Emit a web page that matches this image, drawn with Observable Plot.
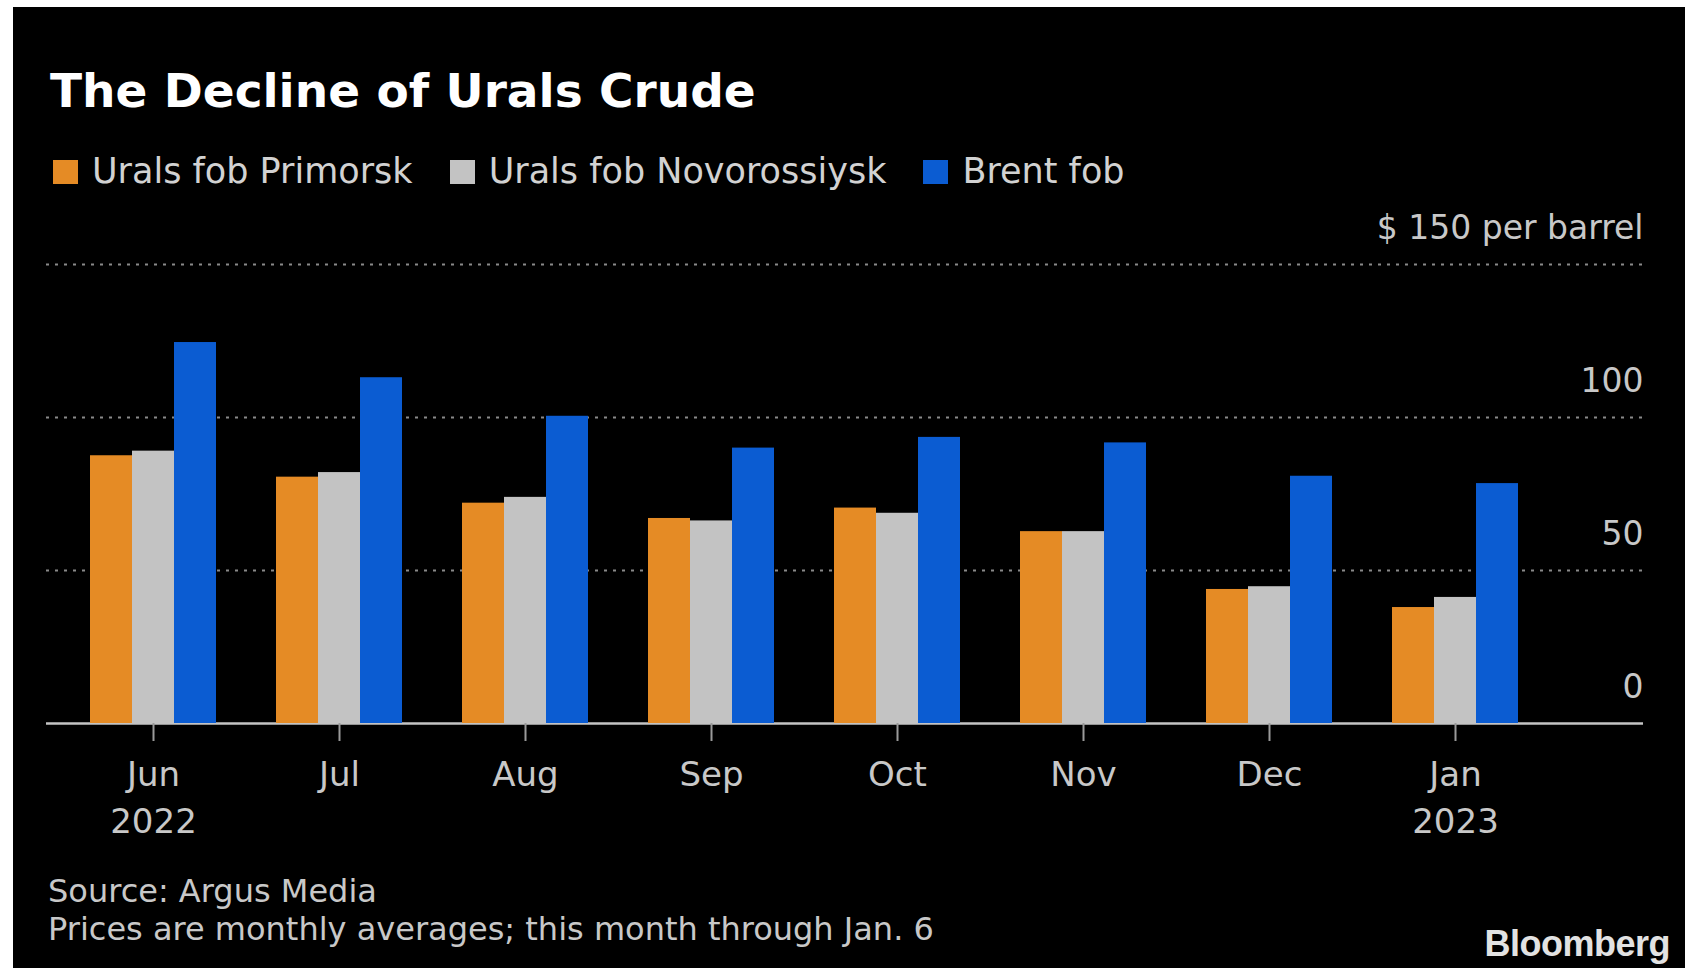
<!DOCTYPE html>
<html>
<head>
<meta charset="utf-8">
<script src="https://cdn.jsdelivr.net/npm/d3@7"></script>
<script src="https://cdn.jsdelivr.net/npm/@observablehq/plot@0.6"></script>
<style>
  html, body { margin: 0; padding: 0; background: #fff; width: 1685px; height: 971px; overflow: hidden; font-family: "DejaVu Sans", sans-serif; }
  #panel { position: absolute; left: 13px; top: 7px; width: 1672px; height: 961px; background: #000; }
  #title { position: absolute; left: 50px; top: 67px; font-size: 47px; line-height: 47px; font-weight: bold; color: #fff; white-space: nowrap; }
  #legend { position: absolute; left: 53px; top: 154px; height: 35px; display: flex; align-items: center; font-size: 35px; line-height: 35px; color: #d2d2d2; white-space: nowrap; }
  #legend .item { display: flex; align-items: center; margin-right: 37px; }
  #legend .sw { width: 25px; height: 24px; margin-right: 14px; }
  #chart { position: absolute; left: 0; top: 180px; width: 1685px; height: 680px; }
  #chart svg { position: absolute; left: 0; top: 0; }
  #footer { position: absolute; left: 48px; top: 872px; font-size: 32px; line-height: 38px; color: #c8c8c8; white-space: nowrap; }
  #logo { position: absolute; right: 15px; top: 926px; font-family: "Liberation Sans", Arial, sans-serif; font-weight: bold; font-size: 36px; line-height: 36px; color: #e2e2e2; letter-spacing: -0.5px; }
</style>
</head>
<body>
<div id="panel"></div>
<div id="title">The Decline of Urals Crude</div>
<div id="legend"></div>
<div id="chart"></div>
<div id="footer">Source: Argus Media<br>Prices are monthly averages; this month through Jan. 6</div>
<div id="logo">Bloomberg</div>
<script>
// ---- data ----
const months = ["Jun", "Jul", "Aug", "Sep", "Oct", "Nov", "Dec", "Jan"];
const years = ["2022", "", "", "", "", "", "", "2023"];
const series = ["Urals fob Primorsk", "Urals fob Novorossiysk", "Brent fob"];
const colors = ["#e58b25", "#c3c3c3", "#0b5cd2"];
const primorsk = [87.5, 80.5, 72.0, 67.0, 70.4, 62.7, 43.8, 37.9];
const novorossiysk = [89.0, 82.0, 73.9, 66.2, 68.7, 62.7, 44.7, 41.2];
const brent = [124.5, 113.0, 100.4, 90.0, 93.5, 91.7, 80.8, 78.4];
const yTicks = [0, 50, 100, 150];
const yLabels = ["0", "50", "100", "$ 150 per barrel"];

const seriesValues = [primorsk, novorossiysk, brent];
const data = months.flatMap((m, i) => series.map((s, j) => ({ month: m, series: s, value: seriesValues[j][i] })));

// legend
const legend = document.getElementById("legend");
series.forEach((s, j) => {
  const item = document.createElement("div");
  item.className = "item";
  const sw = document.createElement("div");
  sw.className = "sw";
  sw.style.background = colors[j];
  const label = document.createElement("span");
  label.textContent = s;
  item.appendChild(sw);
  item.appendChild(label);
  legend.appendChild(item);
});

const common = {
  width: 1685,
  height: 680,
  marginLeft: 46,
  marginRight: 42,
  marginTop: 84,
  marginBottom: 137,
  style: { background: "transparent", fontFamily: "DejaVu Sans, sans-serif", overflow: "visible" },
  y: { domain: [0, 150], axis: null }
};

// back layer: grid, baseline, y labels
const back = Plot.plot({
  ...common,
  x: { domain: months, axis: null },
  marks: [
    Plot.ruleY(yTicks.filter(d => d > 0), { stroke: "#8a8a8a", strokeWidth: 2, strokeDasharray: "3,6" }),
    Plot.ruleY([0], { stroke: "#c4c4c4", strokeWidth: 2.5 }),
    Plot.text(yTicks, {
      y: d => d, text: (d, i) => yLabels[i],
      frameAnchor: "right", textAnchor: "end", dy: -36,
      fill: "#c8c8c8", fontSize: 33
    })
  ]
});

// front layer: grouped bars + month axis
const front = Plot.plot({
  ...common,
  fx: { domain: months, paddingInner: 0.324, paddingOuter: 0.4435, align: 0.257, label: null },
  x: { domain: series, padding: 0, axis: null },
  color: { domain: series, range: colors },
  facet: { marginTop: 0, marginBottom: 0, marginLeft: 0, marginRight: 0 },
  marks: [
    Plot.barY(data, { fx: "month", x: "series", y: "value", fill: "series" }),
    Plot.axisFx({
      anchor: "bottom", label: null, tickSize: 18, tickPadding: 11,
      tickFormat: d => { const y = years[months.indexOf(d)]; return y ? d + "\n" + y : d; },
      fontSize: 34, lineHeight: 1.38, stroke: "#9a9a9a", strokeWidth: 2, fill: "#c8c8c8"
    })
  ]
});
const holder = document.getElementById("chart");
holder.appendChild(back);
holder.appendChild(front);
</script>
</body>
</html>
